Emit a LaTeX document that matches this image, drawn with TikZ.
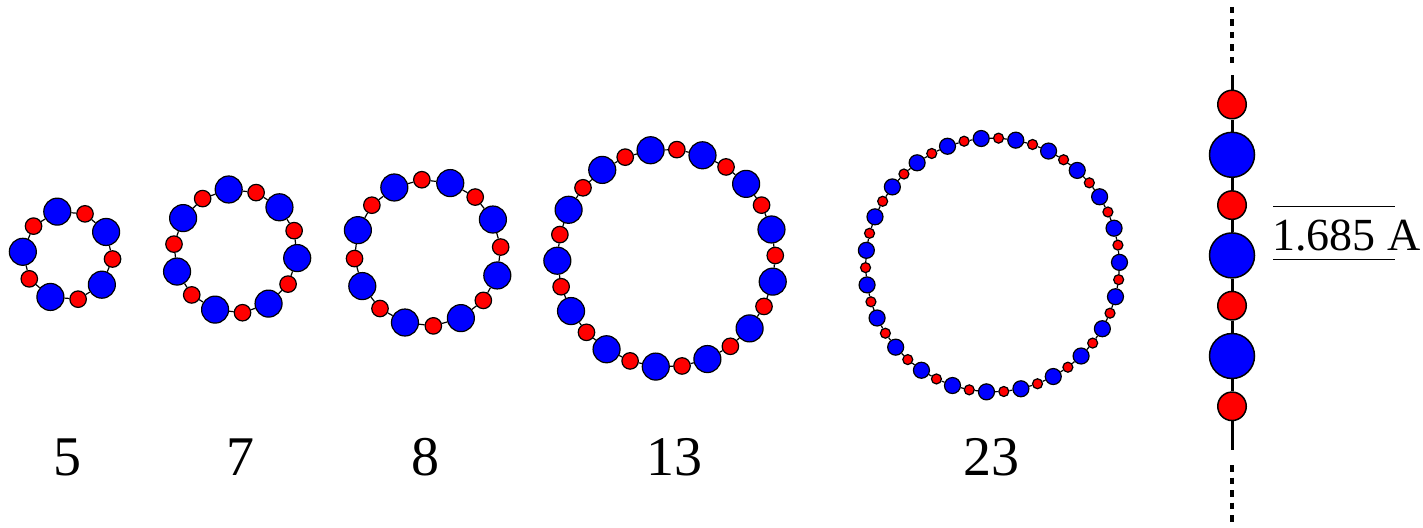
\documentclass[tikz,border=0pt]{standalone}
\usepackage{fontspec}
\setmainfont{Liberation Serif}
\tikzset{
  atomb/.style={circle,draw=black,fill=blue,inner sep=0pt,line width=1.2pt},
  atomr/.style={circle,draw=black,fill=red,inner sep=0pt,line width=1.2pt},
  bigb/.style={atomb,minimum size=27pt},
  bigr/.style={atomr,minimum size=16.5pt},
  smallb/.style={atomb,minimum size=16pt},
  smallr/.style={atomr,minimum size=10pt},
  chainb/.style={atomb,minimum size=45pt,line width=1.5pt},
  chainr/.style={atomr,minimum size=28.5pt,line width=1.5pt},
  bond/.style={draw=black,line width=1.2pt},
  chainbond/.style={draw=black,line width=3pt},
  chaindots/.style={draw=black,line width=3.2pt,dash pattern=on 6.5pt off 6pt},
  ringlabel/.style={anchor=base,inner sep=0pt,font=\fontsize{56}{60}\selectfont},
  distlabel/.style={anchor=base west,inner sep=0pt,font=\fontsize{46}{50}\selectfont},
  guide/.style={draw=black,line width=1pt}
}
% #1 name, #2 number of units, #3 cx, #4 cy, #5 radius, #6 start angle, #7 blue style, #8 red style
\newcommand\makering[8]{%
  \foreach \i in {1,...,#2}{%
    \pgfmathsetmacro\angb{#6-360/#2*(\i-1)}%
    \pgfmathsetmacro\angr{#6-360/#2*(\i-0.5)}%
    \node[#7] (#1b\i) at ({#3+#5*cos(\angb)},{#4-#5*sin(\angb)}) {};
    \node[#8] (#1r\i) at ({#3+#5*cos(\angr)},{#4-#5*sin(\angr)}) {};
  }%
  \foreach \i in {1,...,#2}{%
    \pgfmathtruncatemacro\j{mod(\i,#2)+1}%
    \draw[bond] (#1b\i) -- (#1r\i);
    \draw[bond] (#1r\i) -- (#1b\j);
  }%
}
\begin{document}
\begin{tikzpicture}[x=1pt,y=-1pt]
\useasboundingbox (0,0) rectangle (1423,527);
% rings
\makering{ra}{5}{67.7}{255.4}{45}{103.4}{bigb}{bigr}
\makering{rb}{7}{235.6}{251.1}{62}{96.4}{bigb}{bigr}
\makering{rc}{8}{427.6}{252.8}{73.3}{117}{bigb}{bigr}
\makering{rd}{13}{666.3}{258.1}{109}{98.3}{bigb}{bigr}
\makering{re}{23}{992.5}{265}{127}{95.1}{smallb}{smallr}
% labels
\node[ringlabel] (la) at (67,475) {5};
\node[ringlabel] (lb) at (240.5,475) {7};
\node[ringlabel] (lc) at (425,475) {8};
\node[ringlabel] (ld) at (674,475) {13};
\node[ringlabel] (le) at (991,475) {23};
% chain
\node[chainr] (c1) at (1232,104.5) {};
\node[chainb] (c2) at (1232,154.8) {};
\node[chainr] (c3) at (1232,205.1) {};
\node[chainb] (c4) at (1232,255.4) {};
\node[chainr] (c5) at (1232,305.7) {};
\node[chainb] (c6) at (1232,356) {};
\node[chainr] (c7) at (1232,406.3) {};
\coordinate (ctop) at (1232,75);
\coordinate (cbot) at (1232,450);
\coordinate (dtopa) at (1232,7);
\coordinate (dtopb) at (1232,64);
\coordinate (dbota) at (1232,465);
\coordinate (dbotb) at (1232,527);
\draw[chainbond] (ctop) -- (c1);
\foreach \a/\b in {c1/c2,c2/c3,c3/c4,c4/c5,c5/c6,c6/c7}{\draw[chainbond] (\a) -- (\b);}
\draw[chainbond] (c7) -- (cbot);
\draw[chaindots] (dtopa) -- (dtopb);
\draw[chaindots] (dbota) -- (dbotb);
% distance marker
\node[distlabel] (dist) at (1272,250) {1.685 A};
\coordinate (g1a) at (1273,206.5);
\coordinate (g1b) at (1395,206.5);
\coordinate (g2a) at (1273,259.5);
\coordinate (g2b) at (1395,259.5);
\draw[guide] (g1a) -- (g1b);
\draw[guide] (g2a) -- (g2b);
\end{tikzpicture}
\end{document}
